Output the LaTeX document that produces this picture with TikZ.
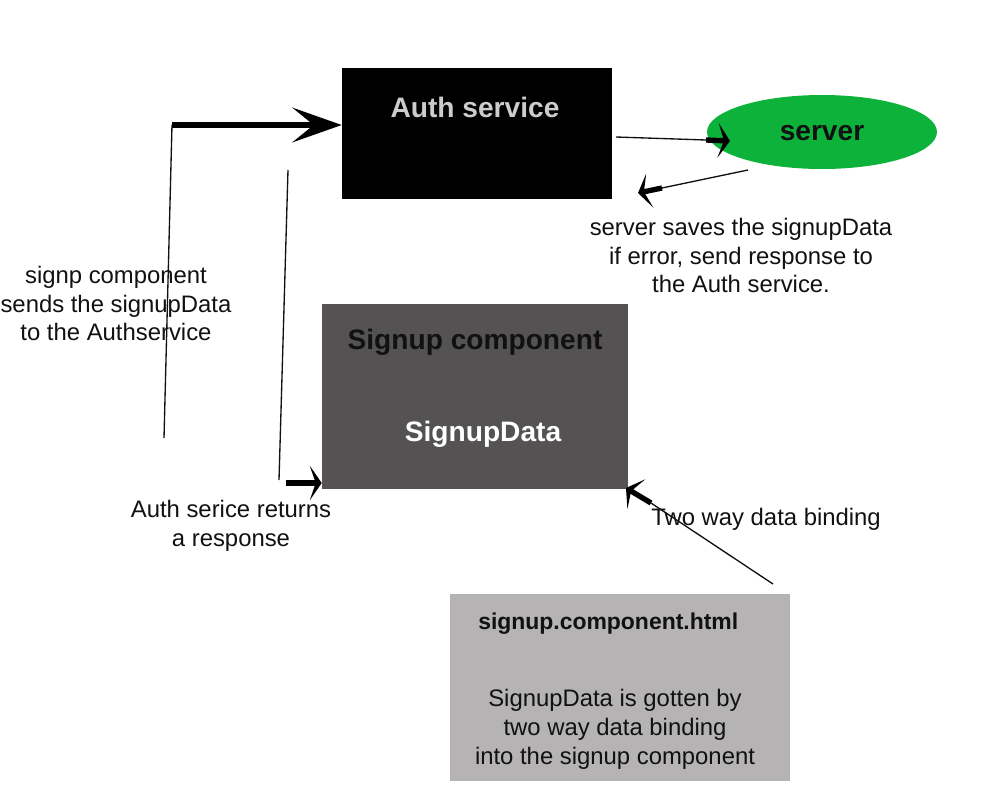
\documentclass[tikz,border=0pt]{standalone}
\usepackage{fontspec}
\setmainfont{Liberation Sans}
\usetikzlibrary{arrows.meta,shapes.geometric}
\definecolor{srvgreen}{RGB}{13,178,58}
\definecolor{darkbox}{RGB}{84,82,83}
\definecolor{lightbox}{RGB}{181,179,180}
\definecolor{lighttext}{RGB}{204,204,204}
\definecolor{ink}{RGB}{17,17,17}
\begin{document}
\begin{tikzpicture}[x=0.75pt,y=-0.75pt,
  box/.style={rectangle,draw=none,inner sep=0pt},
  titlefont/.style={font=\fontsize{21.1}{24}\selectfont\bfseries},
  smalltitle/.style={font=\fontsize{17.2}{20}\selectfont\bfseries},
  bodytext/.style={font=\fontsize{17.9}{21.7}\selectfont,align=center,text=ink,inner sep=0pt},
  thinline/.style={line width=1pt,draw=ink},
  bigarrow/.style={line width=4.3pt,-{Stealth[length=37pt,width=26pt,inset=16pt]}},
  smallarrow/.style={line width=4pt,-{Stealth[length=9pt,width=26pt,inset=4.5pt]}}
]
\useasboundingbox (0,0) rectangle (1000,800);

% boxes
\node[box,fill=black,minimum width=202.5pt,minimum height=98.25pt] (auth) at (477,133.5) {};
\node[ellipse,fill=srvgreen,draw=none,minimum width=172.5pt,minimum height=55.5pt,inner sep=0pt] (server) at (822,132) {};
\node[box,fill=darkbox,minimum width=229.5pt,minimum height=138.75pt] (signup) at (475,396.5) {};
\node[box,fill=lightbox,minimum width=255pt,minimum height=140.25pt] (html) at (620,687.5) {};

% box texts
\node[titlefont,text=lighttext] (authtitle) at (475,107) {Auth service};
\node[titlefont,text=ink] (servertitle) at (822,133) {server};
\node[titlefont,text=ink] (signuptitle) at (475,342) {Signup component};
\node[titlefont,text=white] (signupdata) at (483,434) {SignupData};
\node[smalltitle,text=ink,anchor=west,inner sep=0pt] (htmltitle) at (478,624) {signup.component.html};
\node[bodytext] (htmlbody) at (615,729.5) {SignupData is gotten by\\two way data binding\\into the signup component};

% free labels
\node[bodytext] (sendlabel) at (116,303.5) {signp component\\sends the signupData\\to the Authservice};
\node[bodytext] (returnlabel) at (231,526) {Auth serice returns\\a response};
\node[bodytext] (savelabel) at (741,255.5) {server saves the signupData\\if error, send response to\\the Auth service.};
\node[bodytext,anchor=west] (twowaylabel) at (651,519) {Two way data binding};

% coordinates
\coordinate (a1) at (172,125);
\coordinate (a2) at (164,438);
\coordinate (b1) at (288,170);
\coordinate (b2) at (279,480);
\coordinate (b3) at (286,483);
\coordinate (c1) at (616,137);
\coordinate (c2) at (706,140);
\coordinate (c3) at (730,141);
\coordinate (d1) at (748,170);
\coordinate (d2) at (662,188);
\coordinate (d3) at (638,193);
\coordinate (e1) at (773,584);
\coordinate (e2) at (651,503);
\coordinate (e3) at (626,488);

% connectors
\draw[thinline] (a1) -- (a2);
\draw[bigarrow] (a1) -- (auth.west |- a1);
\draw[thinline] (b1) -- (b2);
\draw[smallarrow] (b3) -- (signup.west |- b3);
\draw[thinline] (c1) -- (c2);
\draw[smallarrow] (c2) -- (c3);
\draw[thinline] (d1) -- (d2);
\draw[smallarrow] (d2) -- (d3);
\draw[thinline] (e1) -- (e2);
\draw[smallarrow] (e2) -- (e3);
\end{tikzpicture}
\end{document}
